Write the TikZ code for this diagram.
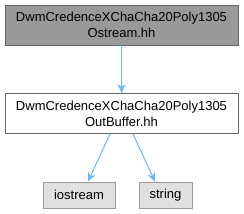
\documentclass[tikz,border=0pt]{standalone}
\usepackage{fontspec}
\setmainfont{Liberation Sans}
\usetikzlibrary{arrows.meta}
\definecolor{edgeblue}{HTML}{63B8FF}
\definecolor{topfill}{HTML}{999999}
\definecolor{darkborder}{HTML}{666666}
\definecolor{extfill}{HTML}{E0E0E0}
\definecolor{extborder}{HTML}{999999}
\begin{document}
\begin{tikzpicture}[x=1pt,y=-1pt,
  filebox/.style={draw=darkborder, line width=0.9pt, minimum width=233pt, minimum height=40pt, inner sep=0pt, align=center, font=\fontsize{13}{16}\selectfont},
  extbox/.style={draw=extborder, fill=extfill, line width=0.9pt, minimum height=26pt, inner sep=0pt, font=\fontsize{13}{16}\selectfont},
  dep/.style={draw=edgeblue, line width=1pt, -{Stealth[length=9pt,width=8pt]}}]
\useasboundingbox (0,0) rectangle (244,214);
\node[filebox, fill=topfill] (top) at (121.5,25) {DwmCredenceXChaCha20Poly1305\\Ostream.hh};
\node[filebox, fill=white] (mid) at (121.5,113.5) {DwmCredenceXChaCha20Poly1305\\OutBuffer.hh};
\node[extbox, minimum width=72pt] (io) at (79,195) {iostream};
\node[extbox, minimum width=53pt] (str) at (165.5,195) {string};
\draw[dep] (top.south) -- (mid.north);
\draw[dep] (mid.south -| 110,0) -- (io.north -| 88,0);
\draw[dep] (mid.south -| 133,0) -- (str.north -| 155,0);
\end{tikzpicture}
\end{document}
